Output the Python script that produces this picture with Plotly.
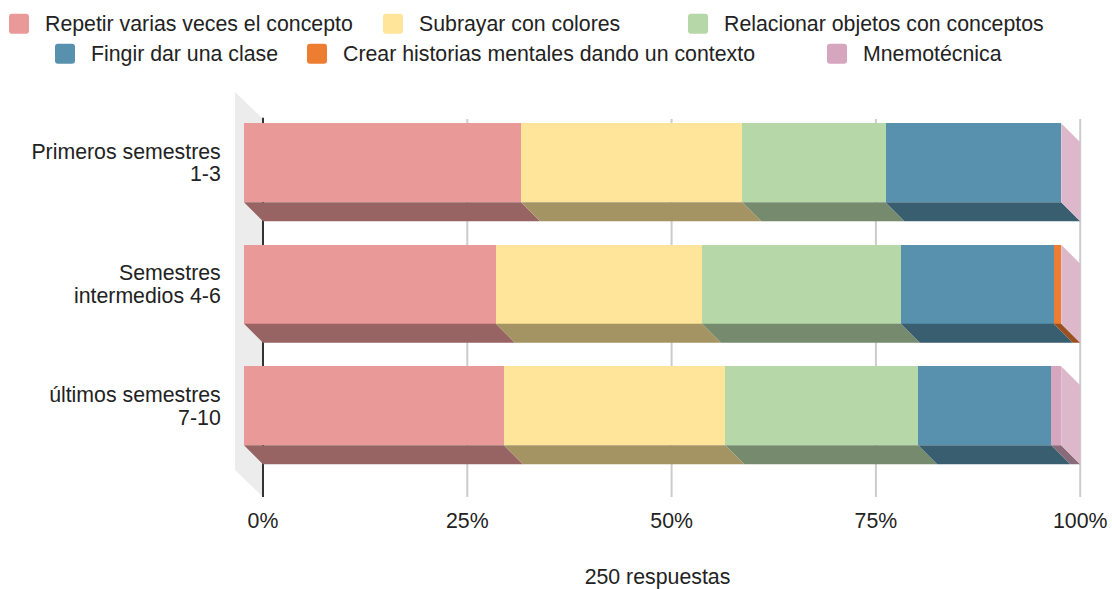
import plotly.graph_objects as go

# ---------------- data ----------------
category_lines = [
    ["Primeros semestres", "1-3"],
    ["Semestres", "intermedios 4-6"],
    ["últimos semestres", "7-10"],
]
series_names = [
    "Repetir varias veces el concepto",
    "Subrayar con colores",
    "Relacionar objetos con conceptos",
    "Fingir dar una clase",
    "Crear historias mentales dando un contexto",
    "Mnemotécnica",
]
repetir = [33.9, 30.8, 31.8]
subrayar = [27.1, 25.2, 27.1]
relacionar = [17.5, 24.3, 23.6]
fingir = [21.5, 18.7, 16.3]
crear = [0.0, 0.9, 0.0]
mnemo = [0.0, 0.0, 1.2]
x_ticks = [0, 25, 50, 75, 100]
x_tick_labels = ["0%", "25%", "50%", "75%", "100%"]
axis_title = "250 respuestas"

series_values = [repetir, subrayar, relacionar, fingir, crear, mnemo]
front_colors = ["#ea9999", "#ffe599", "#b6d7a8", "#5891ad", "#ed7d31", "#d5a6bd"]

# ---------------- layout constants ----------------
W, H = 1112, 589
ML, MR, MT, MB = 233, 30, 85, 89
PW, PH = W - ML - MR, H - MT - MB
X_RANGE = [-3.671, 100.22]
Y_RANGE = [2.775, -0.639]
BAR_H = 0.65
DEPTH_X = 2.325
DEPTH_Y = 0.1563
BACK_TOP, BACK_BOTTOM = -0.3595, 2.750
WALL_X, WALL_DY = -3.43, 0.222
LABEL_LINE_OFFSET = 0.093
FONT = "Liberation Sans, Arial, sans-serif"
FONT_SIZE = 21.3
TEXT_COLOR = "#222222"


def shade(hexcol, f):
    r, g, b = (int(hexcol[i:i + 2], 16) for i in (1, 3, 5))
    return "#%02x%02x%02x" % (int(r * f), int(g * f), int(b * f))


def tint(hexcol, f):
    r, g, b = (int(hexcol[i:i + 2], 16) for i in (1, 3, 5))
    return "#%02x%02x%02x" % (int(r + (255 - r) * f), int(g + (255 - g) * f), int(b + (255 - b) * f))


# normalise to 100 % stacked
n_cat = len(category_lines)
totals = [sum(s[i] for s in series_values) for i in range(n_cat)]
pct = [[s[i] / totals[i] * 100 for i in range(n_cat)] for s in series_values]
starts = []
run = [0.0] * n_cat
for p in pct:
    starts.append(run[:])
    run = [run[i] + p[i] for i in range(n_cat)]

fig = go.Figure()

# bottom faces
for k, name in enumerate(series_names):
    xs, ys = [], []
    for i in range(n_cat):
        s, e = starts[k][i], starts[k][i] + pct[k][i]
        if e - s <= 0:
            continue
        yb = i + BAR_H / 2
        xs += [s - DEPTH_X, e - DEPTH_X, e, s, s - DEPTH_X, None]
        ys += [yb, yb, yb + DEPTH_Y, yb + DEPTH_Y, yb, None]
    if xs:
        fig.add_trace(go.Scatter(x=xs, y=ys, mode="lines", fill="toself",
                                 fillcolor=shade(front_colors[k], 0.65),
                                 line=dict(width=0), hoverinfo="skip", showlegend=False))

# right side face (last series)
xs, ys = [], []
for i in range(n_cat):
    e = 100.0
    yt, yb = i - BAR_H / 2, i + BAR_H / 2
    xs += [e - DEPTH_X, e, e, e - DEPTH_X, e - DEPTH_X, None]
    ys += [yt, yt + DEPTH_Y, yb + DEPTH_Y, yb, yt, None]
fig.add_trace(go.Scatter(x=xs, y=ys, mode="lines", fill="toself",
                         fillcolor=tint(front_colors[-1], 0.2),
                         line=dict(width=0), hoverinfo="skip", showlegend=False))

# front faces
for k, name in enumerate(series_names):
    fig.add_trace(go.Bar(
        name=name, orientation="h",
        y=list(range(n_cat)), x=pct[k],
        base=[starts[k][i] - DEPTH_X for i in range(n_cat)],
        width=BAR_H, marker=dict(color=front_colors[k], line=dict(width=0)),
        hoverinfo="skip", showlegend=False,
    ))

shapes = []
# grey left wall
shapes.append(dict(type="path", xref="x", yref="y", layer="below",
                   path=f"M {WALL_X},{BACK_TOP - WALL_DY} L 0,{BACK_TOP} L 0,{BACK_BOTTOM} "
                        f"L {WALL_X},{BACK_BOTTOM - WALL_DY} Z",
                   fillcolor="#ececec", line=dict(width=0)))
# gridlines
for t in x_ticks[1:]:
    shapes.append(dict(type="line", xref="x", yref="y", layer="below",
                       x0=t, x1=t, y0=BACK_TOP, y1=BACK_BOTTOM,
                       line=dict(color="#cccccc", width=2)))
# baseline axis
shapes.append(dict(type="line", xref="x", yref="y", layer="below",
                   x0=0, x1=0, y0=BACK_TOP - 0.01, y1=BACK_BOTTOM,
                   line=dict(color="#333333", width=2)))


# manual legend
def px2x(px):
    return (px - ML) / PW


def px2y(py):
    return (H - MB - py) / PH


legend_rows_y = [23.8, 23.8, 23.8, 53.8, 53.8, 53.8]
legend_swatch_left = [9, 383, 688, 55, 307, 827]
SW = 20
RAD = 3
annotations = []
for k, name in enumerate(series_names):
    x0, x1 = legend_swatch_left[k], legend_swatch_left[k] + SW
    yc = legend_rows_y[k]
    y0, y1 = yc - SW / 2, yc + SW / 2

    def P(px, py):
        return f"{px2x(px):.5f},{px2y(py):.5f}"
    path = (f"M {P(x0 + RAD, y0)} L {P(x1 - RAD, y0)} Q {P(x1, y0)} {P(x1, y0 + RAD)} "
            f"L {P(x1, y1 - RAD)} Q {P(x1, y1)} {P(x1 - RAD, y1)} "
            f"L {P(x0 + RAD, y1)} Q {P(x0, y1)} {P(x0, y1 - RAD)} "
            f"L {P(x0, y0 + RAD)} Q {P(x0, y0)} {P(x0 + RAD, y0)} Z")
    shapes.append(dict(type="path", xref="paper", yref="paper", path=path,
                       fillcolor=front_colors[k], line=dict(width=0)))
    annotations.append(dict(xref="paper", yref="paper", x=px2x(x1 + 14), y=px2y(yc),
                            xanchor="left", yanchor="middle", showarrow=False,
                            text=name, font=dict(family=FONT, size=FONT_SIZE, color=TEXT_COLOR)))

# y tick labels: two lines per category, tightly spaced
y_tickvals, y_ticktext = [], []
for i, lines in enumerate(category_lines):
    y_tickvals += [i - LABEL_LINE_OFFSET, i + LABEL_LINE_OFFSET]
    y_ticktext += lines

fig.update_layout(
    width=W, height=H,
    margin=dict(l=ML, r=MR, t=MT, b=MB, autoexpand=False),
    paper_bgcolor="white", plot_bgcolor="white",
    barmode="overlay", bargap=0,
    showlegend=False,
    shapes=shapes, annotations=annotations,
    font=dict(family=FONT, size=FONT_SIZE, color=TEXT_COLOR),
    xaxis=dict(range=X_RANGE, tickvals=x_ticks, ticktext=x_tick_labels,
               showgrid=False, zeroline=False, showline=False, automargin=False,
               ticks="outside", ticklen=1, tickcolor="rgba(0,0,0,0)",
               tickfont=dict(family=FONT, size=FONT_SIZE, color=TEXT_COLOR),
               title=dict(text=axis_title, standoff=38,
                          font=dict(family=FONT, size=FONT_SIZE, color=TEXT_COLOR)),
               fixedrange=True),
    yaxis=dict(range=Y_RANGE, tickvals=y_tickvals, ticktext=y_ticktext,
               showgrid=False, zeroline=False, showline=False, automargin=False,
               ticks="outside", ticklen=7, tickcolor="rgba(0,0,0,0)",
               tickfont=dict(family=FONT, size=FONT_SIZE, color=TEXT_COLOR),
               fixedrange=True),
)

fig.write_html("out.html", config={"displayModeBar": False},
               post_script="document.body.style.margin='0';document.body.style.overflow='hidden';")
